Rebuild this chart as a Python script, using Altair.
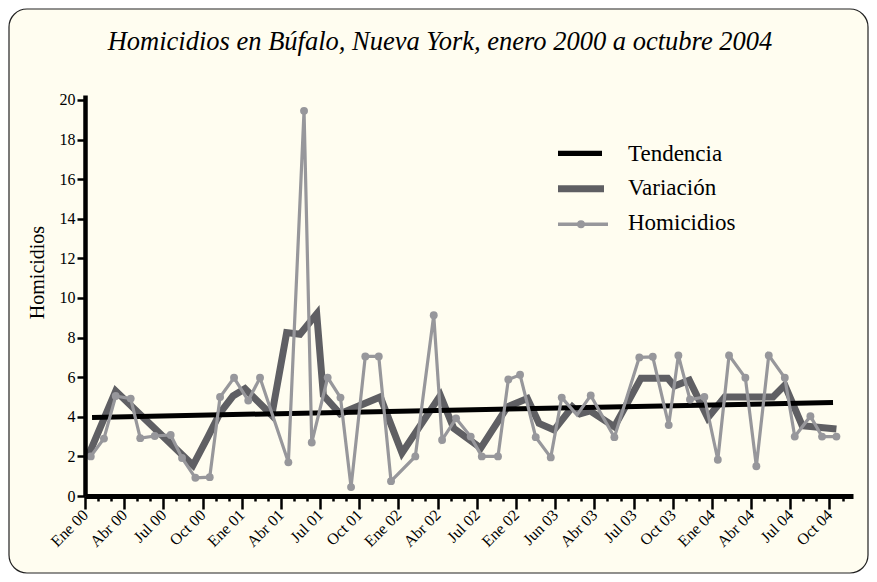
import json
import altair as alt
import pandas as pd

# ---- data ----
title_text = "Homicidios en Búfalo, Nueva York, enero 2000 a octubre 2004"
series_names = ["Tendencia", "Variación", "Homicidios"]

x_labels = ["Ene 00", "Abr 00", "Jul 00", "Oct 00", "Ene 01", "Abr 01", "Jul 01",
            "Oct 01", "Ene 02", "Abr 02", "Jul 02", "Ene 02", "Jun 03", "Abr 03",
            "Jul 03", "Oct 03", "Ene 04", "Abr 04", "Jul 04", "Oct 04"]

# Homicidios (month position, value)
hom_month = [0.44, 1.45, 2.35, 3.50, 4.23, 5.34, 6.56, 7.43, 8.45, 9.55,
             10.34, 11.41, 12.50, 13.40, 15.57, 16.77, 17.36, 18.58, 19.56, 20.37,
             21.46, 22.49, 23.43, 25.29, 26.70, 27.34, 28.41, 29.53, 30.38, 31.62,
             32.41, 33.31, 34.51, 35.66, 36.50, 37.67, 38.72, 40.53, 42.44, 43.47,
             44.69, 45.43, 46.32, 47.42, 48.45, 49.31, 50.56, 51.40, 52.35, 53.58,
             54.34, 55.54, 56.43, 57.53]
hom_value = [2.0, 2.9, 5.05, 4.92, 2.92, 3.03, 3.08, 1.92, 0.92, 0.95,
             5.0, 5.97, 4.82, 5.97, 1.7, 19.45, 2.7, 5.98, 4.97, 0.45,
             7.05, 7.05, 0.75, 2.0, 9.13, 2.83, 3.92, 3.0, 2.0, 2.0,
             5.88, 6.12, 2.97, 1.95, 4.97, 4.1, 5.08, 2.97, 7.0, 7.03,
             3.58, 7.1, 4.87, 5.0, 1.83, 7.1, 5.97, 1.5, 7.1, 5.97,
             3.0, 4.03, 3.0, 3.0]
hom_marker = [1] * 54
hom_marker[35] = 0

# Variación
var_month = [0.23, 2.35, 8.27, 9.42, 10.34, 11.33, 12.25, 14.30, 15.44, 16.46,
             17.74, 18.25, 19.53, 22.61, 24.27, 27.21, 28.23, 30.30, 32.34, 33.87,
             34.76, 35.91, 37.31, 37.90, 38.67, 40.53, 42.57, 44.62, 45.12, 46.27,
             47.68, 48.98, 52.68, 53.58, 54.91, 57.53]
var_value = [2.0, 5.3, 1.55, 3.0, 4.2, 5.05, 5.42, 4.08, 8.25, 8.17,
             9.2, 5.08, 4.15, 5.0, 2.17, 5.08, 3.42, 2.42, 4.5, 4.92,
             3.67, 3.33, 4.5, 4.15, 4.3, 3.5, 5.95, 5.95, 5.55, 5.85,
             3.95, 5.0, 5.0, 5.6, 3.55, 3.38]

# Tendencia
trend_month = [0.54, 57.27]
trend_value = [3.97, 4.72]

# ---- tables ----
hom_df = pd.DataFrame({"mes": hom_month, "valor": hom_value, "marca": hom_marker})
var_df = pd.DataFrame({"mes": var_month, "valor": var_value})
trend_df = pd.DataFrame({"mes": trend_month, "valor": trend_value})

BG = "#FFFDF0"
C_TREND = "#000000"
C_VAR = "#5F5F63"
C_HOM = "#97979B"
FONT = "Liberation Serif"

label_expr = ("datum.value % 3 === 0 ? " + json.dumps(x_labels, ensure_ascii=False)
              + "[round(datum.value / 3)] : ''")

x_scale = alt.Scale(domain=[0, 58.8], nice=False, zero=False)
y_scale = alt.Scale(domain=[0, 20.25], nice=False)

x_axis = alt.Axis(values=list(range(59)), labelExpr=label_expr, title=None, zindex=2,
                  labelFont=FONT, labelFontSize=16, labelColor="black",
                  labelAngle=315, labelAlign="right", labelBaseline="middle",
                  labelPadding=3, labelOverlap=False, labelFlush=False, labelBound=False,
                  tickSize={"condition": {"test": "datum.value % 3 === 0", "value": 13},
                            "value": 5},
                  tickColor="black", tickWidth=2.5, domainColor="black", domainWidth=5,
                  grid=False)
y_axis = alt.Axis(values=list(range(0, 21, 2)), title="Homicidios", zindex=2,
                  labelFont=FONT, labelFontSize=16, labelColor="black", labelPadding=2,
                  titleFont=FONT, titleFontSize=20, titleFontWeight="normal",
                  titleColor="black", titleAngle=270, titleX=-48, titleY=177,
                  titleAlign="center", titleBaseline="middle",
                  tickSize=8, tickColor="black", tickWidth=2.5,
                  domainColor="black", domainWidth=4.5, grid=False)

x_enc = alt.X("mes:Q", scale=x_scale, axis=x_axis)
y_enc = alt.Y("valor:Q", scale=y_scale, axis=y_axis)

one = pd.DataFrame({"s": [title_text]})
frame = alt.Chart(one).mark_rect(fill=BG, stroke="#222222", strokeWidth=1.2,
                                 cornerRadius=18).encode(
    x=alt.value(-76), x2=alt.value(783), y=alt.value(-86), y2=alt.value(478))
title = alt.Chart(one).mark_text(font=FONT, fontStyle="italic", fontSize=26.5,
                                 align="center", baseline="alphabetic",
                                 color="black").encode(
    text="s:N", x=alt.value(355), y=alt.value(-45))

var_line = alt.Chart(var_df).mark_line(color=C_VAR, strokeWidth=7, strokeJoin="miter",
                                       strokeCap="butt").encode(x=x_enc, y=y_enc)
trend_line = alt.Chart(trend_df).mark_line(color=C_TREND, strokeWidth=5,
                                           strokeCap="butt").encode(x=x_enc, y=y_enc)
hom_line = alt.Chart(hom_df).mark_line(color=C_HOM, strokeWidth=3.2).encode(
    x=x_enc, y=y_enc)
hom_pts = alt.Chart(hom_df).transform_filter("datum.marca == 1").mark_point(
    filled=True, color=C_HOM, size=62, opacity=1).encode(x=x_enc, y=y_enc)

# ---- legend ----
leg = []
leg_y = [58.3, 93.7, 129.3]
leg_w = [5.3, 7, 3.5]
leg_x2 = [517, 519, 523]
leg_col = [C_TREND, C_VAR, C_HOM]
text_y = [66, 100, 135]
for i, name in enumerate(series_names):
    d = pd.DataFrame({"s": [name]})
    leg.append(alt.Chart(d).mark_rule(color=leg_col[i], strokeWidth=leg_w[i],
                                      strokeCap="butt").encode(
        x=alt.value(473), x2=alt.value(leg_x2[i]), y=alt.value(leg_y[i])))
    leg.append(alt.Chart(d).mark_text(font=FONT, fontSize=23, align="left",
                                      baseline="alphabetic", color="black").encode(
        text="s:N", x=alt.value(543), y=alt.value(text_y[i])))
leg.append(alt.Chart(pd.DataFrame({"s": [series_names[2]]})).mark_point(
    filled=True, color=C_HOM, size=62, opacity=1).encode(
    x=alt.value(496), y=alt.value(leg_y[2])))

chart = alt.layer(frame, title, var_line, trend_line, hom_line, hom_pts, *leg).properties(
    width=768, height=401,
    autosize=alt.AutoSizeParams(type="none"),
    padding={"left": 77, "top": 87, "right": 16, "bottom": 78},
    background="white",
).configure_view(stroke=None).configure_axis(
    labelFont=FONT, labelFontSize=16, labelColor="black",
    titleFont=FONT, titleFontWeight="normal",
).configure_axisX(labelFont=FONT, labelFontSize=16).configure_axisY(
    labelFont=FONT, labelFontSize=16
).configure_axisQuantitative(labelFont=FONT, labelFontSize=16)

chart.save("out.html", embed_options={"renderer": "svg", "actions": False})
